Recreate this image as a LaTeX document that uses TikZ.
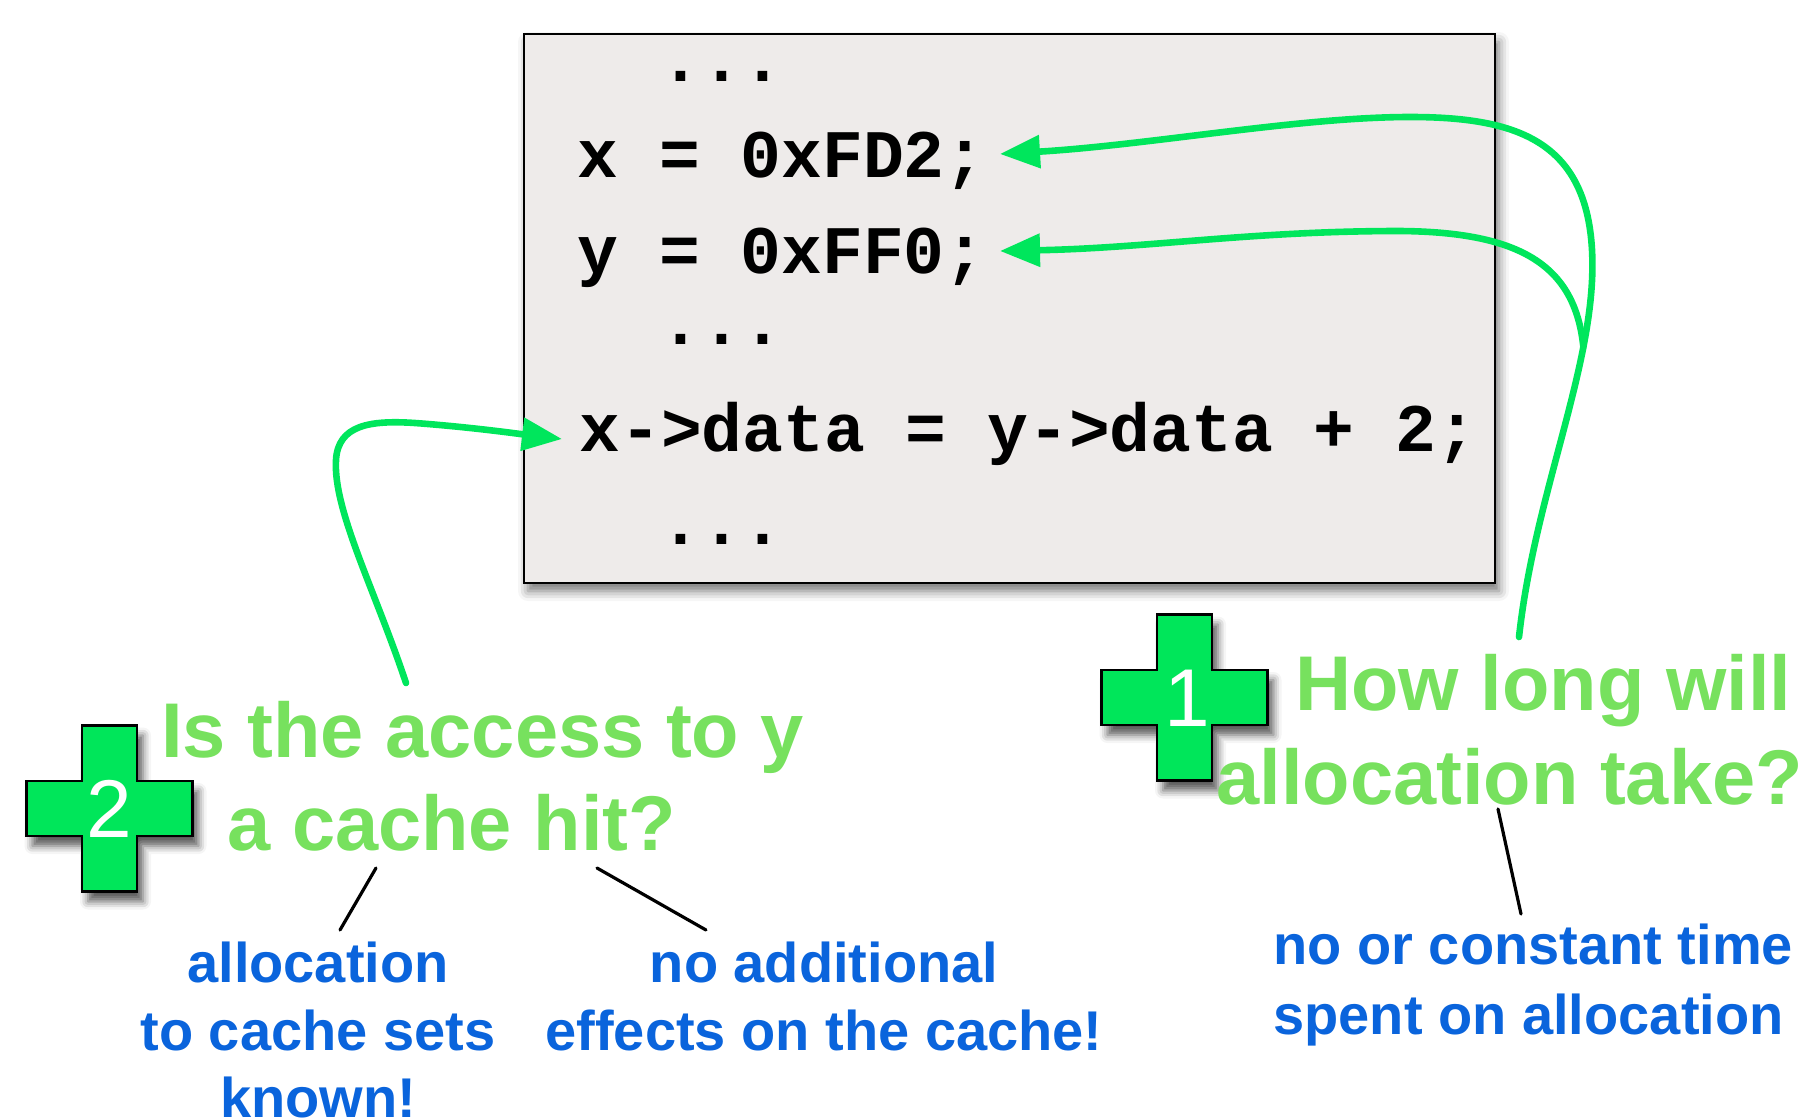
\documentclass[tikz,border=0pt]{standalone}
\usepackage{fontspec}
\setmainfont{Liberation Sans}
\newfontfamily\codefont{Liberation Mono}
\usetikzlibrary{arrows.meta,shadows.blur}
\definecolor{arrowgreen}{RGB}{0,230,92}
\definecolor{crossgreen}{RGB}{0,230,90}
\definecolor{qgreen}{RGB}{119,225,94}
\definecolor{ansblue}{RGB}{10,100,220}
\definecolor{codebg}{RGB}{238,235,234}
\begin{document}
\begin{tikzpicture}[x=0.5pt,y=-0.5pt,
  codebox/.style={draw=black, line width=1.2pt, fill=codebg, inner sep=0,
    blur shadow={shadow xshift=2pt, shadow yshift=-4pt, shadow blur radius=5pt, shadow opacity=55}},
  codeline/.style={anchor=base west, inner sep=0, font=\codefont\bfseries\fontsize{34pt}{40pt}\selectfont},
  question/.style={anchor=base west, inner sep=0, text=qgreen, font=\bfseries\fontsize{38.8pt}{47pt}\selectfont},
  answer/.style={anchor=base, inner sep=0, text=ansblue, font=\bfseries\fontsize{28pt}{34pt}\selectfont},
  answerleft/.style={answer, anchor=base west},
  callout/.style={draw=arrowgreen, line width=3.3pt, line cap=round, -{Triangle[length=20pt,width=16pt]}},
  leader/.style={draw=black, line width=1.6pt, line cap=round},
  crossnum/.style={inner sep=0, text=white, font=\fontsize{41pt}{41pt}\selectfont},
  greencross/.pic={
    \path[fill=crossgreen, draw=black, line width=1.2pt,
      blur shadow={shadow xshift=3pt, shadow yshift=-5pt, shadow blur radius=4pt, shadow opacity=65}]
      (-27.5,-83) -- (27.5,-83) -- (27.5,-27.5) -- (83,-27.5) -- (83,27.5) -- (27.5,27.5)
      -- (27.5,83) -- (-27.5,83) -- (-27.5,27.5) -- (-83,27.5) -- (-83,-27.5) -- (-27.5,-27.5) -- cycle;
  }
]
\useasboundingbox (0,0) rectangle (1808,1119);

% code box
\node[codebox, minimum width=485.5pt, minimum height=274.5pt] (box) at (1009.5,308.5) {};
\node[codeline] (dots1) at (660,81) {...};
\node[codeline] (linex) at (577,177) {x = 0xFD2;};
\node[codeline] (liney) at (577,273) {y = 0xFF0;};
\node[codeline] (dots2) at (660,344) {...};
\node[codeline] (lineacc) at (579,451) {x->data = y->data + 2;};
\node[codeline] (dots3) at (660,544) {...};

% crosses
\pic at (1184.5,697.5) {greencross};
\node[crossnum] (num1) at (1187,698) {1};
\pic at (109.5,808.5) {greencross};
\node[crossnum] (num2) at (109.5,809) {2};

% questions
\node[question] (q1a) at (1295,710) {How long will};
\node[question] (q1b) at (1216,804) {allocation take?};
\node[question] (q2a) at (161,757) {Is the access to y};
\node[question] (q2b) at (227,850) {a cache hit?};

% answers
\node[answer] (a2a) at (318,982) {allocation};
\node[answer] (a2b) at (318,1050) {to cache sets};
\node[answer] (a2c) at (318,1117) {known!};
\node[answer] (a3a) at (824,982) {no additional};
\node[answer] (a3b) at (824,1050) {effects on the cache!};
\node[answerleft] (a1a) at (1273,964) {no or constant time};
\node[answerleft] (a1b) at (1273,1034) {spent on allocation};

% leader lines
\coordinate (l1s) at (376,868); \coordinate (l1e) at (340,930);
\coordinate (l2s) at (597,868); \coordinate (l2e) at (706,930);
\coordinate (l3s) at (1498,809); \coordinate (l3e) at (1521,914);
\draw[leader] (l1s) -- (l1e);
\draw[leader] (l2s) -- (l2e);
\draw[leader] (l3s) -- (l3e);

% green callouts
\coordinate (s1) at (1519,637);
\coordinate (t1) at (1000,154);
\coordinate (t2) at (1000,251);
\coordinate (s3) at (406,683);
\coordinate (t3) at (562,439);
\draw[callout] (s1) .. controls (1535,490) and (1598,360) .. (1592,250) coordinate[pos=0.72] (merge)
  .. controls (1586,140) and (1515,117) .. (1410,117)
  .. controls (1300,117) and (1150,145) .. (t1);
\draw[callout] (merge) .. controls (1575,265) and (1520,232) .. (1400,231)
  .. controls (1250,231) and (1150,248) .. (t2);
\draw[callout] (s3) .. controls (375,590) and (333,510) .. (336,460)
  .. controls (338,425) and (370,420) .. (415,423)
  .. controls (470,427) and (520,434) .. (t3);
\end{tikzpicture}
\end{document}
